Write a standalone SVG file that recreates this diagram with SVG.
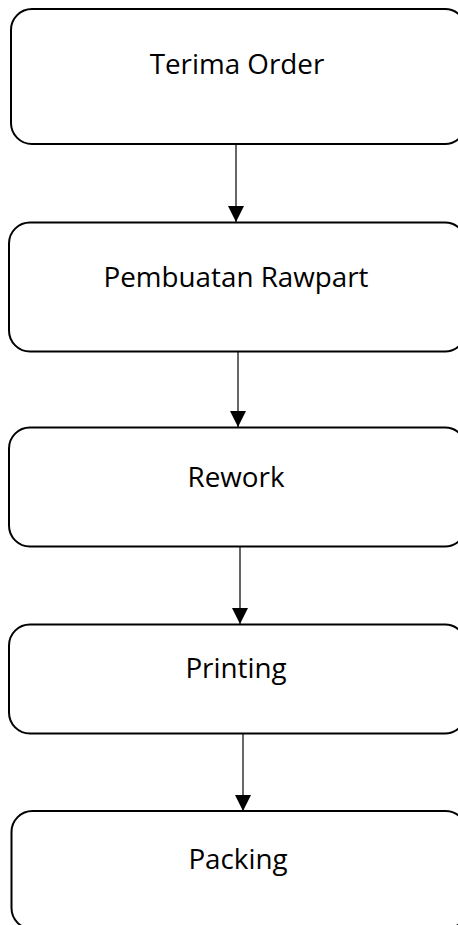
<svg xmlns="http://www.w3.org/2000/svg" width="458" height="925" viewBox="0 0 458 925">
  <style>
    .box { fill: #ffffff; stroke: #000000; stroke-width: 2; }
    .lbl { font-family: "Open Sans", "Noto Sans", "Liberation Sans", sans-serif; font-size: 27.8px; fill: #000000; text-anchor: middle; }
    .conn { stroke: #000000; stroke-width: 1.2; fill: none; marker-end: url(#arrow); }
  </style>
  <defs>
    <marker id="arrow" markerUnits="userSpaceOnUse" markerWidth="16" markerHeight="16" refX="16" refY="8" orient="auto">
      <path d="M0,0 L16,8 L0,16 Z" fill="#000000"/>
    </marker>
  </defs>
  <rect width="458" height="925" fill="#ffffff"/>
  <g id="connectors">
    <line class="conn" x1="236" y1="144" x2="236" y2="222"/>
    <line class="conn" x1="238" y1="352" x2="238" y2="427"/>
    <line class="conn" x1="240" y1="547" x2="240" y2="624"/>
    <line class="conn" x1="243" y1="734" x2="243" y2="811"/>
  </g>
  <g id="node-terima-order">
    <rect class="box" x="11" y="9" width="455" height="135" rx="21" ry="21"/>
    <text class="lbl" x="237" y="74">Terima Order</text>
  </g>
  <g id="node-pembuatan-rawpart">
    <rect class="box" x="9" y="222.5" width="457" height="129" rx="21" ry="21"/>
    <text class="lbl" x="236" y="287">Pembuatan Rawpart</text>
  </g>
  <g id="node-rework">
    <rect class="box" x="9" y="427.5" width="457" height="119" rx="21" ry="21"/>
    <text class="lbl" x="236" y="487">Rework</text>
  </g>
  <g id="node-printing">
    <rect class="box" x="9" y="624.5" width="457" height="109" rx="21" ry="21"/>
    <text class="lbl" x="236" y="678">Printing</text>
  </g>
  <g id="node-packing">
    <rect class="box" x="11.5" y="811" width="455" height="118" rx="21" ry="21"/>
    <text class="lbl" x="238" y="869">Packing</text>
  </g>
</svg>
